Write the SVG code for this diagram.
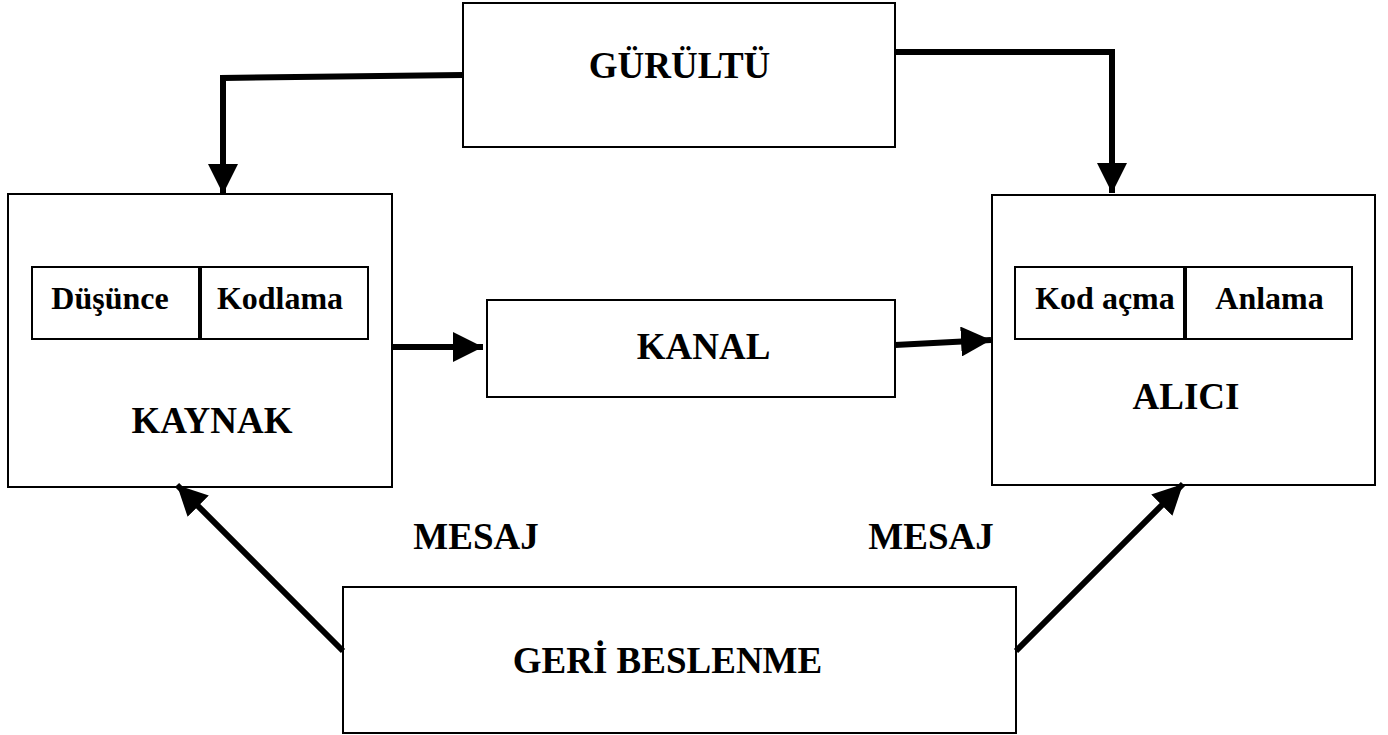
<svg xmlns="http://www.w3.org/2000/svg" width="1388" height="735" viewBox="0 0 1388 735">
<style>
.box{fill:#fff;stroke:#000;stroke-width:2}
.div{stroke:#000;stroke-width:4}
.con{fill:none;stroke:#000;stroke-width:6}
.t{font-family:"Liberation Serif","Times New Roman",serif;font-weight:bold;font-size:37px;text-anchor:middle;fill:#000}
.s{font-family:"Liberation Serif","Times New Roman",serif;font-weight:bold;font-size:32px;text-anchor:middle;fill:#000}
</style>
<defs>
<marker id="ah" markerUnits="userSpaceOnUse" markerWidth="30" markerHeight="30" refX="28" refY="14" orient="auto" viewBox="0 0 28 28">
<path d="M0,0 L28,14 L0,28 z" fill="#000"/>
</marker>
</defs>
<rect width="1388" height="735" fill="#fff"/>
<g id="gurultu">
<rect class="box" x="463" y="3" width="432" height="144"/>
<text class="t" x="679.5" y="78">GÜRÜLTÜ</text>
</g>
<g id="kaynak">
<rect class="box" x="8" y="194" width="384" height="293"/>
<rect class="box" x="32" y="267" width="336" height="72"/>
<line class="div" x1="200" y1="267" x2="200" y2="339"/>
<text class="s" x="110" y="309">Düşünce</text>
<text class="s" x="280" y="309">Kodlama</text>
<text class="t" x="212" y="433">KAYNAK</text>
</g>
<g id="kanal">
<rect class="box" x="487" y="300" width="408" height="97"/>
<text class="t" x="703.5" y="359">KANAL</text>
</g>
<g id="alici">
<rect class="box" x="992" y="195" width="383" height="290"/>
<rect class="box" x="1015" y="267" width="337" height="72"/>
<line class="div" x1="1185" y1="267" x2="1185" y2="339"/>
<text class="s" x="1105" y="309">Kod açma</text>
<text class="s" x="1269.5" y="309">Anlama</text>
<text class="t" x="1186" y="409">ALICI</text>
</g>
<g id="geribeslenme">
<rect class="box" x="343" y="587" width="673" height="146"/>
<text class="t" x="667.5" y="673">GERİ BESLENME</text>
</g>
<g id="labels">
<text class="t" x="476" y="549">MESAJ</text>
<text class="t" x="931" y="549">MESAJ</text>
</g>
<g id="connectors">
<path class="con" d="M463,75 L223,78 L223,194" marker-end="url(#ah)"/>
<path class="con" d="M895,52 L1112,52 L1112,193" marker-end="url(#ah)"/>
<path class="con" d="M392,347 L483,347" marker-end="url(#ah)"/>
<path class="con" d="M895,345 L991,340" marker-end="url(#ah)"/>
<path class="con" d="M343,651 L177,485" marker-end="url(#ah)"/>
<path class="con" d="M1016,651 L1183,484" marker-end="url(#ah)"/>
</g>
</svg>
